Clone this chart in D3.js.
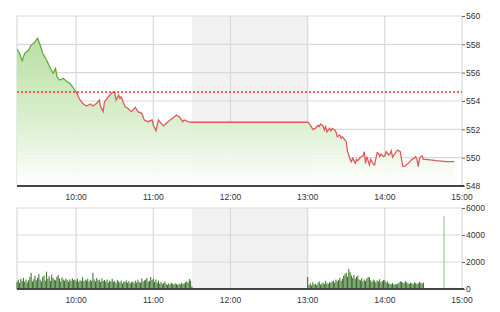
<!DOCTYPE html>
<html>
<head>
<meta charset="utf-8" />
<title>Index intraday</title>
<script src="https://d3js.org/d3.v7.min.js"></script>
<style>
  body { margin: 0; background: #fff; }
  svg text { font-family: "Liberation Sans", Arial, sans-serif; font-size: 8.5px; fill: #333; }
</style>
</head>
<body>
<svg width="500" height="312"></svg>
<script>
// price series (time, index value)
const priceTimes = ["09:14","09:16","09:18","09:20","09:23","09:25","09:27","09:30","09:32","09:34",
  "09:37","09:40","09:42","09:44","09:45","09:47","09:50","09:53","09:55","09:58",
  "10:00","10:03","10:05","10:08","10:11","10:13","10:16","10:18","10:19","10:21",
  "10:22","10:25","10:28","10:30","10:31","10:33","10:34","10:35","10:38","10:40",
  "10:43","10:46","10:48","10:51","10:53","10:56","10:59","11:00","11:02","11:04",
  "11:06","11:08","11:10","11:13","11:15","11:18","11:20","11:23","11:24","11:27",
  "11:30","13:00","13:01","13:03","13:04","13:06","13:08","13:09","13:10","13:12",
  "13:13","13:14","13:15","13:17","13:18","13:19","13:21","13:22","13:23","13:25",
  "13:26","13:27","13:29","13:30","13:31","13:33","13:34","13:35","13:37","13:38",
  "13:39","13:41","13:43","13:44","13:45","13:46","13:48","13:49","13:51","13:52",
  "13:54","13:55","13:56","13:57","13:59","14:00","14:01","14:03","14:04","14:05",
  "14:06","14:08","14:09","14:10","14:12","14:13","14:14","14:16","14:17","14:19",
  "14:21","14:23","14:24","14:25","14:26","14:27","14:28","14:29","14:30","14:32",
  "14:40","14:48","14:54"];
const priceValues = [557.65,557.37,556.85,557.37,557.6,557.95,558.07,558.43,557.95,557.37,
  556.9,556.3,555.96,556.3,555.72,555.48,555.6,555.36,555.25,554.9,
  554.64,554.07,553.84,553.65,553.79,553.65,553.84,554.07,553.6,553.25,
  553.95,554.3,554.59,554.64,554.07,554.42,554.19,554.3,553.6,553.49,
  553.25,553.56,553.25,553.13,552.66,552.54,552.66,552.31,551.9,552.66,
  552.43,552.24,552.43,552.66,552.78,553.01,552.89,552.54,552.66,552.54,
  552.5,552.5,552.43,552.15,552.0,552.07,552.29,552.19,552.38,552.24,
  551.95,552.19,551.81,552.07,551.9,552.07,551.95,551.83,551.48,551.6,
  551.37,551.48,551.25,551.13,550.42,549.88,549.72,549.96,549.6,549.88,
  549.79,550.03,550.12,550.42,549.6,550.07,549.48,549.88,549.55,549.48,
  550.35,550.31,550.07,550.26,550.07,550.12,550.42,550.19,550.26,550.49,
  550.03,550.31,550.42,550.54,550.42,549.88,549.37,549.41,549.51,549.65,
  549.88,549.96,550.07,549.88,549.37,549.96,550.07,550.12,549.88,549.88,
  549.79,549.72,549.72];
const refValue = 554.64;

// volume per minute
const volMorningStart = "09:14";
const volMorning = [520,680,450,760,600,820,540,700,480,650,
  900,1190,560,720,980,640,830,1100,700,560,
  880,1000,620,1280,750,940,600,1060,820,700,
  640,900,1040,780,560,860,700,620,760,680,
  540,720,600,800,650,700,580,760,520,640,
  600,880,560,700,620,760,540,680,600,1200,
  720,560,820,640,700,520,780,600,660,540,
  700,480,620,560,760,520,600,440,680,560,
  480,620,400,560,520,640,460,580,420,500,
  560,440,620,480,700,520,460,780,560,640,
  700,820,540,600,890,660,760,520,700,460,
  620,400,520,360,440,560,380,300,420,340,
  460,380,320,420,360,300,400,340,460,380,
  420,500,560,480,740,620,200];
const volAfternoonStart = "13:00";
const volAfternoon = [890,300,420,260,500,340,380,280,440,560,
  320,400,480,360,600,420,380,500,440,560,
  620,480,700,560,660,830,600,760,980,1100,
  1200,900,1480,1250,1000,820,1050,760,900,1000,
  700,640,820,560,700,600,780,900,860,640,
  520,700,600,480,640,560,720,500,600,660,
  640,480,560,420,380,360,440,320,380,340,
  400,460,580,520,480,440,580,500,420,380,
  460,420,360,500,440,380,420,520,460,400,
  480];
const volCloseTimes = ["14:46","14:50","14:53"];
const volCloseValues = [5400,90,110];

const hourTicks = ["10:00","11:00","12:00","13:00","14:00","15:00"];
const priceTicks = [548,550,552,554,556,558,560];
const volTicks = [0,2000,4000,6000];
const breakStart = "11:30", breakEnd = "13:00";

const parse = s => { const [h, m] = s.split(":").map(Number); return new Date(2020, 0, 1, h, m); };
const addMin = (s, k) => new Date(parse(s).getTime() + k * 60000);

const svg = d3.select("svg");
const left = 17, right = 462;
const top1 = 16, bot1 = 186, top2 = 208, bot2 = 289;

const x = d3.scaleTime().domain([parse("09:14"), parse("15:00")]).range([left, right]);
const y = d3.scaleLinear().domain([548, 560]).range([bot1, top1]);
const yv = d3.scaleLinear().domain([0, 6000]).range([bot2, top2]);

const defs = svg.append("defs");
const grad = defs.append("linearGradient").attr("id", "fillGrad")
  .attr("gradientUnits", "userSpaceOnUse").attr("x1", 0).attr("x2", 0).attr("y1", top1 + 20).attr("y2", bot1);
grad.append("stop").attr("offset", 0).attr("stop-color", "#b4dd9c");
grad.append("stop").attr("offset", 0.55).attr("stop-color", "#d7eecb");
grad.append("stop").attr("offset", 1).attr("stop-color", "#ffffff");

function panel(yScale, ticks, t, b, fmt) {
  const g = svg.append("g");
  g.append("rect").attr("x", x(parse(breakStart))).attr("y", t)
    .attr("width", x(parse(breakEnd)) - x(parse(breakStart))).attr("height", b - t)
    .attr("fill", "#f1f1f1");
  g.selectAll(".hg").data(ticks).join("line")
    .attr("x1", left).attr("x2", right)
    .attr("y1", d => yScale(d)).attr("y2", d => yScale(d))
    .attr("stroke", "#d9d9d9").attr("stroke-width", 1.2);
  g.selectAll(".vg").data(hourTicks).join("line")
    .attr("x1", d => x(parse(d))).attr("x2", d => x(parse(d)))
    .attr("y1", t).attr("y2", b)
    .attr("stroke", "#d9d9d9").attr("stroke-width", 1.2);
  g.append("line").attr("x1", left).attr("x2", left).attr("y1", t).attr("y2", b)
    .attr("stroke", "#d9d9d9").attr("stroke-width", 1.2);
  // right axis
  const ax = svg.append("g").attr("transform", `translate(${right},0)`)
    .call(d3.axisRight(yScale).tickValues(ticks).tickSize(3).tickPadding(1).tickFormat(fmt));
  ax.select(".domain").remove();
  ax.selectAll(".tick line").attr("stroke", "#666");
  ax.selectAll("text").style("font-size", "8.5px").attr("fill", "#333");
  return g;
}

// price panel
panel(y, priceTicks, top1, bot1, d3.format("d"));
const pts = priceTimes.map((t, i) => [parse(t), priceValues[i]]);
const area = d3.area().x(d => x(d[0])).y0(bot1).y1(d => y(d[1]));
svg.append("path").datum(pts).attr("d", area).attr("fill", "url(#fillGrad)").attr("opacity", 0.95);

const refY = y(refValue);
defs.append("clipPath").attr("id", "above").append("rect")
  .attr("x", 0).attr("y", 0).attr("width", 500).attr("height", refY);
defs.append("clipPath").attr("id", "below").append("rect")
  .attr("x", 0).attr("y", refY).attr("width", 500).attr("height", 312 - refY);
const line = d3.line().x(d => x(d[0])).y(d => y(d[1]));
svg.append("path").datum(pts).attr("d", line).attr("fill", "none")
  .attr("stroke", "#5aa83a").attr("stroke-width", 1.2).attr("clip-path", "url(#above)");
svg.append("path").datum(pts).attr("d", line).attr("fill", "none")
  .attr("stroke", "#dc5b5b").attr("stroke-width", 1.3).attr("clip-path", "url(#below)");

svg.append("line").attr("x1", left).attr("x2", right).attr("y1", refY).attr("y2", refY)
  .attr("stroke", "#ff2a2a").attr("stroke-width", 1.4).attr("stroke-dasharray", "2,2");

// volume panel
panel(yv, volTicks, top2, bot2, d3.format("d"));
const vols = volMorning.map((v, i) => [addMin(volMorningStart, i), v, "#336d22"])
  .concat(volAfternoon.map((v, i) => [addMin(volAfternoonStart, i), v, "#336d22"]))
  .concat(volCloseTimes.map((t, i) => [parse(t), volCloseValues[i], "#8dbb7c"]));
svg.append("g").selectAll("rect").data(vols).join("rect")
  .attr("x", d => x(d[0]) - 0.5).attr("width", 1)
  .attr("y", d => yv(d[1])).attr("height", d => bot2 - yv(d[1]))
  .attr("fill", d => d[2]);

// bottom axes
[bot1, bot2].forEach(b => {
  svg.append("line").attr("x1", left).attr("x2", right + 2).attr("y1", b).attr("y2", b)
    .attr("stroke", "#444").attr("stroke-width", 2);
  svg.append("g").selectAll("text").data(hourTicks).join("text")
    .attr("x", d => x(parse(d))).attr("y", b + 14)
    .attr("text-anchor", "middle").text(d => d);
});
</script>
</body>
</html>
